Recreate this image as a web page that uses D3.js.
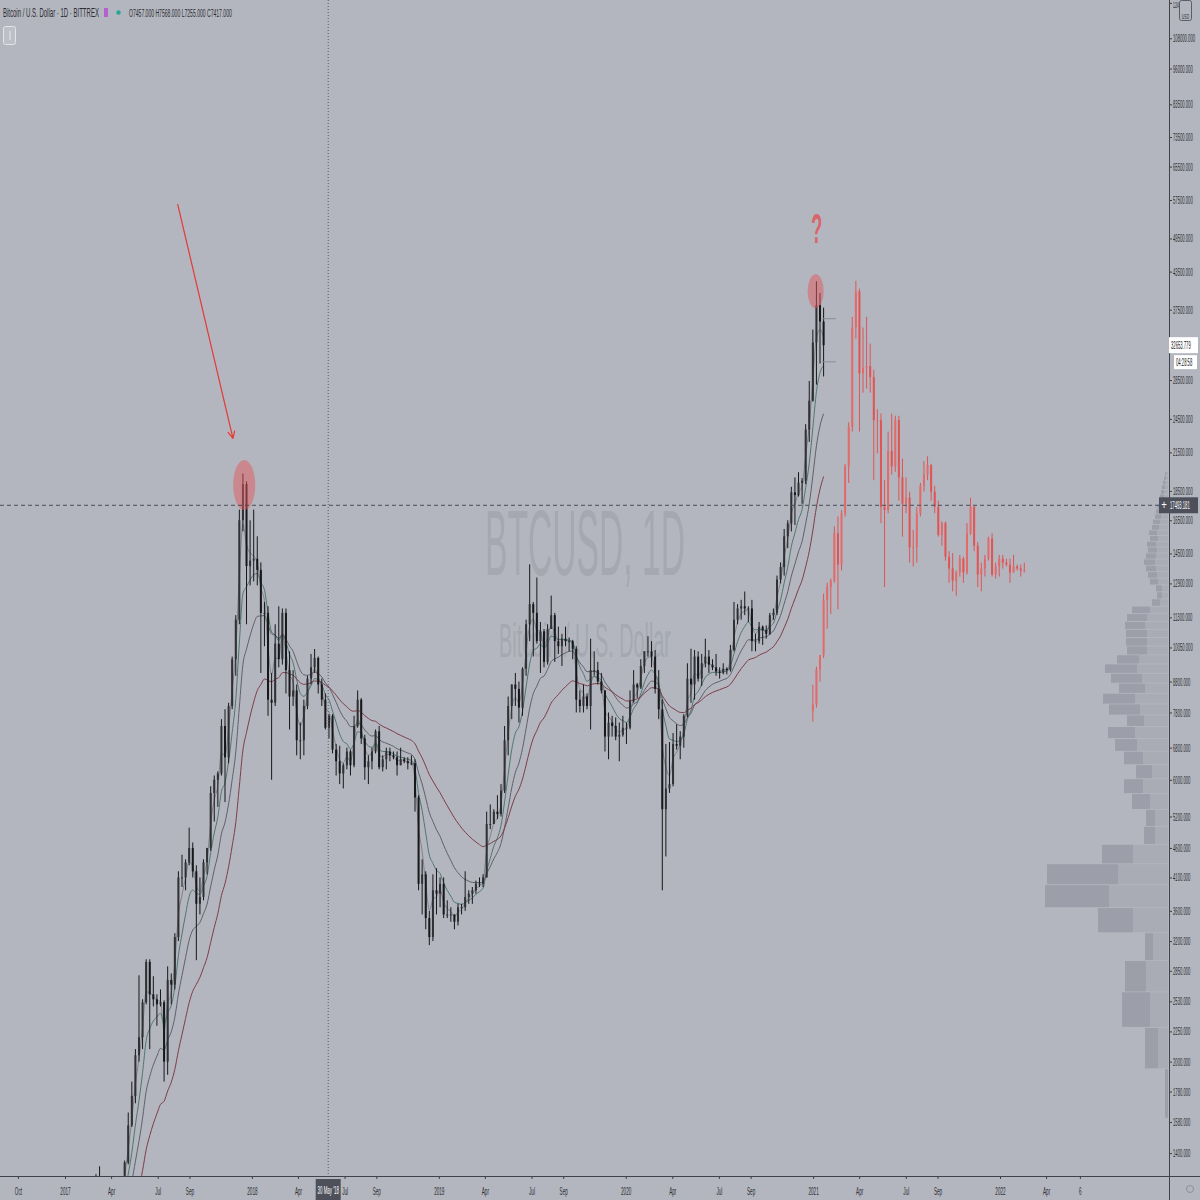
<!DOCTYPE html>
<html><head><meta charset="utf-8">
<script src="https://cdn.jsdelivr.net/npm/d3@7"></script>
<style>html,body{margin:0;padding:0;background:#b3b6bf;} svg{display:block;}</style>
</head><body>
<svg id="c" width="1200" height="1200"></svg>
<script>
// ---------- DATA (weekly candles, high / low / close; open = previous close) ----------
const firstWeek = "2016-07-04";
const firstOpen = 700;
const hlc2016 = [[700,630,650],[680,645,665],[680,650,655],[660,620,625],[630,480,590],[600,575,575],[590,570,580],[585,570,575],[610,570,605],[630,600,610],[615,600,607],[610,590,600],[615,600,610],[620,605,615],[645,615,640],[660,630,655],[720,650,700],[740,680,710],[740,700,705],[750,700,730],[745,725,735],[780,730,765],[780,755,775],[800,770,790],[930,790,905],[1000,880,1000]];
const hlc2017 = [[1150,880,910],[910,750,830],[930,820,920],[925,890,920],[1040,920,1020],[1070,950,1000],[1060,990,1055],[1200,1050,1180],[1290,1170,1270],[1330,1000,1240],[1260,940,960],[1060,890,1040],[1100,1010,1090],[1200,1080,1190],[1220,1150,1180],[1260,1170,1250],[1360,1240,1350],[1640,1340,1560],[1850,1550,1750],[2100,1700,2050],[2800,2000,2200],[2550,2100,2520],[2980,2500,2950],[2980,2100,2600],[2790,2480,2550],[2600,2300,2500],[2650,2480,2520],[2540,1850,2000],[2900,1900,2750],[2820,2500,2700],[3300,2650,3250],[4200,3200,4100],[4480,3950,4100],[4400,3900,4350],[4980,4300,4600],[4700,4100,4200],[4300,2970,3700],[4100,3550,3800],[4400,3750,4350],[4600,4150,4600],[5850,4550,5700],[6100,5100,6000],[6200,5400,6150],[7600,6100,7400],[7900,5500,6550],[8100,6400,8000],[9700,7900,9600],[11400,9000,11200],[17200,11000,16500],[19800,15800,19000],[19200,11000,13800],[16500,12800,14100]];
const hlc2018 = [[17200,13000,14200],[15500,12800,13600],[14000,9100,11500],[12000,10100,11500],[11800,7700,8200],[9100,6000,8100],[11000,8000,10200],[11800,9300,9600],[11700,9400,11500],[11700,8400,9200],[9900,7300,8300],[9200,8000,8500],[8700,6600,7000],[7500,6500,7000],[8200,6600,8000],[9000,7900,8900],[9800,8700,9300],[9990,9100,9650],[9700,8400,8700],[8900,8000,8200],[8400,7300,7350],[7750,7050,7700],[7750,6650,6750],[6900,6100,6450],[6850,5900,6150],[6400,5800,6350],[6800,6250,6700],[6750,6100,6350],[7700,6300,7400],[8500,7350,8200],[8250,6900,7050],[7150,6000,6300],[6600,5900,6450],[6800,6250,6700],[7300,6650,7250],[7400,6250,6300],[6600,6200,6500],[6800,6250,6700],[6800,6450,6600],[6700,6500,6550],[6700,6100,6350],[6800,6350,6500],[6550,6400,6450],[6550,6250,6400],[6600,6350,6400],[6500,5300,5600],[5650,3900,4000],[4400,3550,4150],[4200,3350,3500],[3600,3150,3250],[4150,3200,3900],[4250,3550,3850],[4100,3650,4000]];
const hlc2019 = [[4100,3500,3550],[3750,3500,3550],[3650,3450,3550],[3550,3350,3450],[3700,3400,3650],[3700,3550,3650],[4200,3600,3800],[3900,3700,3850],[3950,3700,3900],[4050,3850,4000],[4100,3950,4000],[4150,3950,4100],[5300,4100,5050],[5450,4950,5050],[5350,5050,5300],[5650,5150,5250],[5900,5200,5750],[7400,5700,7000],[8300,6600,8000],[8700,7600,8700],[9100,8000,8550],[8800,7500,7950],[9300,7700,9250],[11200,9000,11000],[13900,10300,11900],[12000,9700,11500],[13200,10200,10300],[11100,9100,10700],[10800,9300,9500],[11000,9400,10800],[12300,10800,11400],[11500,9500,10300],[10900,9800,10100],[10600,9350,10400],[10900,10100,10300],[10450,9900,10300],[10350,9600,10000],[10100,7800,8200],[8500,7800,8000],[8700,7800,8300],[8400,7900,8000],[10400,7300,9200],[9900,9000,9200],[9500,8700,8800],[9100,8400,8500],[8500,6700,7100],[7800,6500,7500],[7700,7100,7400],[7650,7000,7100],[7500,6450,7150],[7700,7100,7350],[7500,6900,7350]];
const hlc2020 = [[8500,7300,8150],[9200,8100,8700],[8750,8250,8600],[9600,8550,9350],[9900,9100,9900],[10500,9700,9900],[10300,9300,9700],[9950,8400,8550],[9200,7600,7900],[8200,3900,5350],[6900,4450,5800],[6950,5700,5900],[7200,5850,6900],[7450,6750,6850],[7250,6500,7100],[7750,6800,7700],[9450,7650,8900],[10000,8100,8700],[9950,8200,9700],[9900,8800,8900],[9800,8650,9450],[10400,9300,9700],[9950,9100,9400],[9600,9200,9300],[9800,9000,9150],[9300,8900,9100],[9450,9050,9250],[9300,9050,9200],[10150,9150,9950],[12000,9900,11200],[11900,11000,11700],[12100,11200,11800],[12500,11400,11700],[11800,11100,11700],[12100,9900,10300],[10600,9900,10300],[11100,10200,10900],[10950,10150,10750],[10950,10400,10600],[11500,10550,11400],[11700,11200,11500],[13300,11400,13100],[14000,12900,13750],[15950,13300,15500],[16500,14800,16300],[18800,15800,18400],[19500,16200,18200],[19900,18100,19100],[19450,17600,19250],[24000,19000,23500],[28400,22400,26300],[34700,26200,33000]];
const hlc2021 = [[41900,28000,38200],[40000,30400,35800],[37800,28900,32654]];

// projection (bars pattern) copied from the 2017-2018 cycle
const fractalFrom = "2017-09-18";
const fractalTo = "2018-11-05";
const fractalShiftWeeks = 171;
const fractalScale = 2.12;

// moving averages (EMA lengths in days)
const emaDays = [20, 50, 100, 200];
const emaColors = ["#7f828b", "#4f7771", "#5e616a", "#7d3d48"];

// volume profile (equal price rows)
const vpBase = 1605, vpStep = 340;
const vpTotal = [3,23,46,43,23,70,123,121,66,24,22,36,44,32,44,53,60,41,59,65,49,57,63,51,41,42,42,43,41,36,16,11,12,18,20,22,24,22,20,21,18,19,16,15,13,12,11,9,8,7,6,5,4,3];
const vpDark  = [3,13,28,21,8,35,64,71,31,11,9,18,19,16,19,22,27,17,31,32,26,31,32,22,20,21,21,20,20,18,8,5,6,8,9,10,11,10,9,9,8,8,7,7,6,5,5,4,4,3,3,2,2,1];

// axes
const priceTicks = [124000,108000,96000,83500,73500,65500,57500,49500,43500,37500,28500,24500,21500,18500,16500,14500,12900,11300,10050,8800,7800,6800,6000,5200,4600,4100,3600,3200,2850,2530,2250,2000,1780,1580,1400];
const timeTickDates = ["2016-10-01","2017-01-01","2017-04-01","2017-07-01","2017-09-01","2018-01-01","2018-04-01","2018-07-01","2018-09-01","2019-01-01","2019-04-01","2019-07-01","2019-09-01","2020-01-01","2020-04-01","2020-07-01","2020-09-01","2021-01-01","2021-04-01","2021-07-01","2021-09-01","2022-01-01","2022-04-01","2022-06-06"];
const timeTickLabels = ["Oct","2017","Apr","Jul","Sep","2018","Apr","Jul","Sep","2019","Apr","Jul","Sep","2020","Apr","Jul","Sep","2021","Apr","Jul","Sep","2022","Apr","6"];

// crosshair / labels
const crossDate = "2018-05-30", crossDateLabel = "30 May '18";
const crossPrice = 17493.181;
const lastPrice = 32653.779, countdown = "04:28:58";
const headerTitle = "Bitcoin / U.S. Dollar · 1D · BITTREX";
const headerOHLC = "O7457.000 H7568.000 L7255.000 C7417.000";

// annotations (date, price)
const arrowFrom = ["2017-08-09", 56600], arrowTo = ["2017-11-25", 22700];
const circles = [["2017-12-17", 18930, 11, 25], ["2021-01-06", 40300, 8, 17]];
const questionMark = ["2021-01-08", 48600];

// ---------- CHART ----------
const parse = d3.timeParse("%Y-%m-%d");
const W = 1200, H = 1200, plotR = 1169, plotB = 1176;
const x = d3.scaleTime().domain([new Date(2017,0,1), new Date(2022,0,1)]).range([65, 1000]);
const y = d3.scaleLog().domain([1280.5, 125400]).range([plotB, 0]);
const FONT = "Liberation Sans, Arial, sans-serif";

const svg = d3.select("#c");
svg.append("rect").attr("width", W).attr("height", H).attr("fill", "#b3b6bf");
svg.append("defs").append("clipPath").attr("id", "plot")
  .append("rect").attr("x", 0).attr("y", 0).attr("width", plotR).attr("height", plotB);
const plot = svg.append("g").attr("clip-path", "url(#plot)");

// text squeezed horizontally to a target width (the chart's narrow lettering)
function fitText(g, xx, yy, str, size, width, fill, extra) {
  const t = g.append("text").attr("font-family", FONT).attr("font-size", size).attr("fill", fill).text(str);
  if (extra) extra(t);
  const w = t.node().getComputedTextLength();
  t.attr("transform", `translate(${xx},${yy}) scale(${width / w},1)`);
  return t;
}
function sq(g, xx, yy, str, size, sx, fill, anchor) {
  return g.append("text").attr("transform", `translate(${xx},${yy}) scale(${sx},1)`)
    .attr("font-family", FONT).attr("font-size", size).attr("fill", fill).attr("text-anchor", anchor || "start").text(str);
}

// watermark
fitText(plot, 485, 575, "BTCUSD, 1D", 93, 200, "#a5a8b1");
fitText(plot, 499, 657, "Bitcoin / U.S. Dollar", 49, 172, "#a5a8b1");

// bars
const hlc = [].concat(hlc2016, hlc2017, hlc2018, hlc2019, hlc2020, hlc2021);
const t0 = parse(firstWeek);
const bars = hlc.map((d, i) => ({
  date: d3.timeDay.offset(t0, 7 * i),
  o: i ? hlc[i - 1][2] : firstOpen, h: d[0], l: d[1], c: d[2]
}));
const mid = d => d3.timeHour.offset(d, 84);

// volume profile
const vp = plot.append("g");
vpTotal.forEach((tot, k) => {
  const lo = vpBase + vpStep * k, hi = lo + vpStep;
  const y0 = y(hi) + 0.5, y1 = y(lo) - 0.5;
  const left = 1168 - tot;
  vp.append("rect").attr("x", left).attr("y", y0).attr("width", tot).attr("height", Math.max(0.5, y1 - y0)).attr("fill", "#a9acb5");
  vp.append("rect").attr("x", left).attr("y", y0).attr("width", vpDark[k]).attr("height", Math.max(0.5, y1 - y0)).attr("fill", "#9c9fa9");
});

// EMAs
emaDays.forEach((days, j) => {
  const a = 2 / (days / 7 + 1);
  let e = bars[0].c;
  const pts = bars.map((b, i) => { e = i ? a * b.c + (1 - a) * e : b.c; return { t: mid(b.date), v: e }; });
  plot.append("path").datum(pts)
    .attr("d", d3.line().x(d => x(d.t)).y(d => y(d.v)).curve(d3.curveMonotoneX))
    .attr("fill", "none").attr("stroke", emaColors[j]).attr("stroke-width", 1);
});

function drawCandles(g, data, color, bodyColorUp) {
  g.selectAll("line.w").data(data).enter().append("line")
    .attr("x1", d => x(d.t)).attr("x2", d => x(d.t))
    .attr("y1", d => y(d.h)).attr("y2", d => y(d.l))
    .attr("stroke", color).attr("stroke-width", 1);
  g.selectAll("rect.b").data(data).enter().append("rect")
    .attr("x", d => x(d.t) - 1).attr("width", 2)
    .attr("y", d => y(Math.max(d.o, d.c)))
    .attr("height", d => Math.max(1, Math.abs(y(d.o) - y(d.c))))
    .attr("fill", d => d.c >= d.o ? bodyColorUp : color);
}
drawCandles(plot.append("g"), bars.map(b => ({ t: mid(b.date), o: b.o, h: b.h, l: b.l, c: b.c })), "#18181a", "#303135");

// red projection
const fFrom = parse(fractalFrom), fTo = parse(fractalTo);
const frac = bars.filter(b => b.date >= fFrom && b.date <= fTo).map(b => ({
  t: mid(d3.timeDay.offset(b.date, 7 * fractalShiftWeeks)),
  o: b.o * fractalScale, h: b.h * fractalScale, l: b.l * fractalScale, c: b.c * fractalScale
}));
drawCandles(plot.append("g"), frac, "#e05454", "#e46a6a");

// small price-line markers near the last bars
[36200, 30600].forEach(p => {
  plot.append("line").attr("x1", 822).attr("x2", 836).attr("y1", y(p)).attr("y2", y(p)).attr("stroke", "#8b8e97").attr("stroke-width", 1);
});

// annotations
circles.forEach(c => {
  plot.append("ellipse").attr("cx", x(parse(c[0]))).attr("cy", y(c[1])).attr("rx", c[2]).attr("ry", c[3])
    .attr("fill", "rgba(226,88,92,0.5)");
});
const ax1 = x(parse(arrowFrom[0])), ay1 = y(arrowFrom[1]), ax2 = x(parse(arrowTo[0])), ay2 = y(arrowTo[1]);
plot.append("line").attr("x1", ax1).attr("y1", ay1).attr("x2", ax2).attr("y2", ay2).attr("stroke", "#e53935").attr("stroke-width", 1.2);
const ang = Math.atan2(ay2 - ay1, ax2 - ax1);
[-0.45, 0.45].forEach(da => {
  plot.append("line").attr("x1", ax2).attr("y1", ay2)
    .attr("x2", ax2 - 8 * Math.cos(ang + da)).attr("y2", ay2 - 8 * Math.sin(ang + da))
    .attr("stroke", "#e53935").attr("stroke-width", 1.2);
});
fitText(plot, x(parse(questionMark[0])) - 5.5, y(questionMark[1]), "?", 42, 11, "#d8666a", t => t.attr("font-weight", "bold"));

// crosshair
const cx = x(parse(crossDate)), cy = y(crossPrice);
plot.append("line").attr("x1", cx).attr("x2", cx).attr("y1", 0).attr("y2", plotB)
  .attr("stroke", "#5a5d66").attr("stroke-dasharray", "1,2").attr("stroke-width", 1);
svg.append("line").attr("x1", 0).attr("x2", plotR).attr("y1", cy).attr("y2", cy)
  .attr("stroke", "#4a4d56").attr("stroke-dasharray", "4,3").attr("stroke-width", 1);

// ---------- AXES ----------
const SX = 0.38;
const yAxis = svg.append("g").attr("transform", `translate(${plotR},0)`)
  .call(d3.axisRight(y).tickValues(priceTicks).tickFormat(d3.format(".3f")).tickSize(3).tickSizeOuter(0));
yAxis.select(".domain").remove();
yAxis.selectAll(".tick line").attr("stroke", "#3c3f47");
yAxis.selectAll(".tick text").attr("font-family", FONT).attr("font-size", 11).attr("fill", "#2c2d31")
  .attr("x", 4 / SX).attr("transform", `scale(${SX},1)`);
// the topmost label sits at the very top edge; keep it just inside and small
yAxis.selectAll(".tick").filter(d => d === priceTicks[0]).select("text")
  .attr("font-size", 9).attr("dy", "0.75em").attr("y", -2);

const xAxis = svg.append("g").attr("transform", `translate(0,${plotB})`)
  .call(d3.axisBottom(x).tickValues(timeTickDates.map(parse)).tickFormat((d, i) => timeTickLabels[i]).tickSize(3).tickSizeOuter(0));
xAxis.select(".domain").remove();
xAxis.selectAll(".tick line").attr("stroke", "#3c3f47");
xAxis.selectAll(".tick text").attr("font-family", FONT).attr("font-size", 11).attr("fill", "#2c2d31")
  .attr("y", 11).attr("transform", `scale(0.42,1)`);

svg.append("line").attr("x1", 0).attr("x2", W).attr("y1", plotB + 0.5).attr("y2", plotB + 0.5).attr("stroke", "#3f424a").attr("stroke-width", 1);
svg.append("line").attr("x1", plotR + 0.5).attr("x2", plotR + 0.5).attr("y1", 0).attr("y2", H).attr("stroke", "#3f424a").attr("stroke-width", 1);

// USD box (top right)
svg.append("rect").attr("x", 1179.5).attr("y", 0.5).attr("width", 12).attr("height", 20).attr("rx", 2)
  .attr("fill", "#b3b6bf").attr("stroke", "#5a5d66");
sq(svg, 1185.5, 19, "USD", 7, 0.5, "#2c2d31", "middle");

// last price label + countdown
const ly = y(lastPrice);
svg.append("rect").attr("x", 1169).attr("y", ly - 8).attr("width", 29).attr("height", 16).attr("fill", "#ffffff");
sq(svg, 1171, ly + 4, d3.format(".3f")(lastPrice), 11, SX, "#222", "start");
svg.append("rect").attr("x", 1174).attr("y", ly + 10).attr("width", 23).attr("height", 14).attr("fill", "#ffffff");
sq(svg, 1176, ly + 21, countdown, 11, SX, "#222", "start");

// crosshair price label
svg.append("rect").attr("x", 1159).attr("y", cy - 8).attr("width", 39).attr("height", 16).attr("fill", "#4d505a");
sq(svg, 1164, cy + 4, "+", 12, 0.8, "#ffffff", "middle");
sq(svg, 1170, cy + 4, d3.format(".3f")(crossPrice), 11, SX, "#ffffff", "start");

// crosshair date label
svg.append("rect").attr("x", cx - 12.5).attr("y", plotB + 3).attr("width", 25).attr("height", 21).attr("fill", "#4d505a");
sq(svg, cx, plotB + 18, crossDateLabel, 11, 0.4, "#ffffff", "middle");

// bottom-right settings icon
svg.append("circle").attr("cx", 1190).attr("cy", 1189).attr("r", 3.5).attr("fill", "none").attr("stroke", "#8d9099").attr("stroke-width", 1);

// header
fitText(svg, 3, 17, headerTitle, 12, 96, "#2c2d31");
svg.append("rect").attr("x", 104).attr("y", 8).attr("width", 4).attr("height", 9).attr("fill", "#b65fcf");
svg.append("circle").attr("cx", 118.5).attr("cy", 12.5).attr("r", 2.2).attr("fill", "#26a69a");
fitText(svg, 129, 17, headerOHLC, 11, 103, "#2c2d31");
svg.append("rect").attr("x", 3.5).attr("y", 26.5).attr("width", 12).attr("height", 18).attr("rx", 2)
  .attr("fill", "#bdc0c8").attr("stroke", "#e2e4e8");
svg.append("line").attr("x1", 10).attr("x2", 10).attr("y1", 31).attr("y2", 40).attr("stroke", "#e8e9ec");
</script>
</body></html>
